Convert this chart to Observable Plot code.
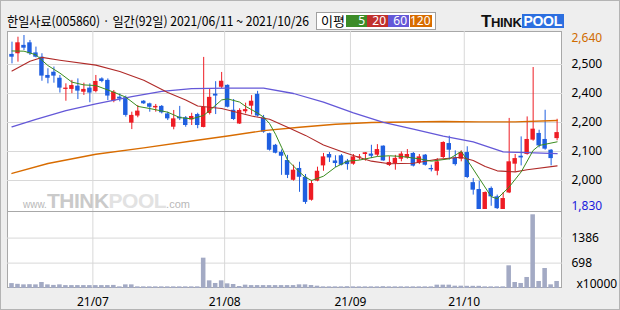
<!DOCTYPE html>
<html><head><meta charset="utf-8">
<script src="https://cdn.jsdelivr.net/npm/d3@7"></script>
<script src="https://cdn.jsdelivr.net/npm/@observablehq/plot@0.6"></script>
<style>
body{margin:0;background:#fff;}
#wrap{position:relative;width:620px;height:310px;background:#eeeeee;overflow:hidden;font-family:"Noto Sans CJK KR","Noto Sans",sans-serif;box-shadow:inset 0 0 0 1px #b4b4b4;}
#title{position:absolute;left:7px;top:12px;font-size:13px;line-height:17px;white-space:nowrap;color:#000;transform-origin:left center;display:inline-block;}
#legend{position:absolute;left:316px;top:12px;width:120px;height:18px;background:#fff;box-sizing:border-box;border:1px solid #a0a0a0;}
#legend .lbl{position:absolute;left:4px;top:-1px;font-size:13px;line-height:17px;}
#legend .b{position:absolute;top:2px;height:12px;color:#fff;font-size:12px;line-height:12px;text-align:right;box-sizing:border-box;padding-right:2px;font-family:"Noto Sans","Liberation Sans",sans-serif;}
#logo{position:absolute;left:481px;top:12px;height:17px;white-space:nowrap;font-family:"Liberation Sans","DejaVu Sans",sans-serif;font-weight:900;}
#logo .t1{font-size:17px;color:#111;letter-spacing:-0.5px;}
#logo .t2{font-size:13px;color:#111;letter-spacing:-0.3px;}
#logo .pool{display:inline-block;background:#2c6fe0;color:#fff;font-size:14px;line-height:14px;padding:0 2px 0 1px;margin-left:1px;letter-spacing:-0.3px;vertical-align:1px;}
#panel{position:absolute;left:7px;top:31px;width:555px;height:257px;background:#fff;box-sizing:border-box;border:1px solid #a8a8a8;}
#divider{position:absolute;left:7px;top:211px;width:555px;height:1px;background:#a8a8a8;}
#wm{position:absolute;left:23px;top:189px;white-space:nowrap;font-family:"Liberation Sans","DejaVu Sans",sans-serif;}
#wm .w{font-size:10px;color:#b8b8b8;}
#wm .th{font-size:21px;font-weight:900;color:#cacaca;letter-spacing:-0.5px;}
#wm .po{font-size:21px;font-weight:900;color:#e2e2e2;letter-spacing:-0.5px;}
#wm .c{font-size:11px;color:#b8b8b8;}
#price{position:absolute;left:0;top:31px;}
#vol{position:absolute;left:0;top:211px;}
</style></head><body>
<div id="wrap">
  <div id="title">한일사료(005860) · 일간(92일) 2021/06/11 ~ 2021/10/26</div>
  <div id="legend"><span class="lbl">이평</span></div>
  <div id="logo"><span class="t1">T</span><span class="t2">HINK</span><span class="pool">POOL</span></div>
  <div id="panel"></div>
  <div id="wm"><span class="w">www.</span><span class="th">THINK</span><span class="po">POOL</span><span class="c">.com</span></div>
  <div id="divider"></div>
  <div id="price"></div>
  <div id="vol"></div>
</div>
<script>
// ---- data ----
const open  = [2552,2555,2594,2606,2559,2539,2454,2469,2441,2389,2389,2404,2376,2395,2379,2438,2431,2334,2353,2350,
               2232,2265,2334,2322,2303,2310,2275,2213,2260,2257,2247,2272,2212,2277,2367,2399,2408,2292,2228,2285,
               2311,2366,2256,2183,2129,2096,2058,1966,2021,1980,1873,1962,2033,2086,2056,2080,2055,2041,2070,2086,
               2088,2083,2125,2035,2044,2064,2070,2091,2047,2083,2021,2008,2072,2137,2070,2064,2095,1955,1923,1830,
               1928,1889,1830,1907,2041,2078,2086,2153,2184,2156,2106,2160];
const high  = [2609,2632,2640,2617,2586,2555,2485,2493,2454,2415,2431,2438,2418,2415,2454,2443,2438,2384,2368,2358,
               2283,2314,2337,2325,2319,2314,2283,2291,2310,2263,2278,2278,2538,2389,2425,2468,2410,2342,2299,2325,
               2360,2380,2268,2185,2133,2107,2082,2036,2050,1993,1966,2027,2091,2095,2080,2086,2063,2086,2086,2095,
               2129,2132,2126,2076,2082,2098,2109,2095,2086,2086,2036,2067,2145,2171,2103,2103,2122,1974,1962,1912,
               1935,1897,1909,2254,2086,2168,2261,2491,2199,2292,2109,2250];
const low   = [2508,2516,2570,2547,2536,2427,2415,2418,2372,2334,2369,2342,2361,2327,2373,2420,2337,2327,2331,2260,
               2202,2257,2319,2283,2283,2275,2244,2201,2244,2213,2221,2206,2210,2270,2272,2393,2303,2244,2226,2275,
               2270,2260,2185,2102,2089,1989,1974,1962,1910,1854,1869,1959,2008,2049,2025,2033,2013,2036,2060,2055,
               2067,2075,2055,2030,2013,2052,2064,2028,2039,2032,2005,1987,2067,2060,2032,2052,1974,1897,1830,1830,
               1845,1830,1830,1904,2005,2033,2083,2148,2117,2106,2033,2150];
const close = [2539,2606,2581,2555,2539,2451,2441,2451,2395,2395,2407,2381,2389,2372,2426,2426,2358,2376,2344,2268,
               2268,2288,2322,2306,2310,2280,2252,2252,2252,2221,2263,2221,2305,2352,2358,2427,2306,2249,2291,2295,
               2334,2265,2190,2106,2092,2078,1989,2013,1980,1863,1951,2008,2075,2070,2044,2036,2039,2075,2075,2094,
               2078,2109,2056,2049,2068,2088,2086,2032,2075,2036,2015,2052,2142,2106,2039,2095,1979,1920,1830,1909,
               1889,1834,1881,2052,2067,2070,2156,2204,2126,2111,2067,2188];
// volume, unit x10000 shares
const volume = [135,115,100,105,100,165,100,85,100,80,80,80,80,80,80,80,80,85,45,100,
                100,45,45,45,45,45,45,45,45,45,45,45,834,211,138,211,128,110,55,92,
                80,80,80,80,80,80,80,80,100,100,82,64,45,45,45,45,50,45,45,45,
                45,45,50,45,45,45,45,45,45,45,45,92,92,92,64,64,60,60,60,45,
                45,45,45,624,165,138,303,2027,193,550,101,193];
// moving averages: [day index, value]
const ma5 = [[0,2568],[2,2567],[4,2550],[6,2500],[8,2465],[10,2423],[12,2410],[14,2407],[17,2376],[19,2353],
             [21,2310],[23,2300],[26,2283],[28,2258],[30,2252],[32,2268],[33,2291],[35,2340],[36,2345],[38,2330],
             [39,2310],[41,2279],[42,2260],[43,2230],[44,2180],[45,2120],[46,2060],[48,2004],[49,1980],[50,1965],
             [52,1985],[54,2027],[56,2055],[58,2060],[61,2077],[63,2080],[65,2077],[68,2066],[70,2055],[73,2066],
             [75,2100],[76,2060],[78,1975],[80,1890],[81,1880],[83,1935],[85,2005],[87,2105],[88,2128],[91,2145]];
const ma20 = [[0,2475],[3,2520],[5,2538],[8,2525],[14,2502],[18,2472],[22,2432],[26,2375],[29,2340],[31,2312],
              [35,2300],[40,2265],[43,2250],[46,2213],[49,2175],[52,2130],[55,2100],[58,2072],[60,2055],[63,2043],
              [67,2045],[71,2064],[75,2073],[77,2058],[79,2030],[81,2010],[84,2005],[86,2015],[91,2033]];
const ma60 = [[0,2215],[4,2250],[9,2290],[14,2322],[20,2355],[25,2380],[30,2393],[36,2395],[42,2395],[47,2370],
              [52,2330],[57,2280],[62,2236],[67,2204],[72,2172],[77,2145],[82,2098],[86,2095],[91,2090]];
const ma120 = [[0,1998],[6,2044],[14,2087],[22,2117],[30,2149],[36,2172],[42,2197],[48,2213],[54,2227],[60,2235],
               [66,2237],[72,2240],[78,2238],[84,2238],[91,2244]];
const priceGrid = [2505,2370,2235,2100,1965];
const priceGridLabels = ["2,500","2,400","2,200","2,100","2,000"];
const priceMax = 2640, priceMin = 1830;
const priceMaxLabel = "2,640", priceMinLabel = "1,830";
const volGrid = [1386,698];
const volMax = 2090;
const volUnit = "x10000";
const monthStart = [14,36,57,76];
const monthLabels = ["21/07","21/08","21/09","21/10"];
const maNames = ["5","20","60","120"];
const maColors = ["#3c8c28","#c0302c","#6458d8","#d86c00"];

// ---- legend ----
const legend = document.getElementById("legend");
const bx = [29,50,71,93], bw = [21,21,21,22];
maNames.forEach((n,k)=>{
  const s=document.createElement("span"); s.className="b"; s.textContent=n;
  s.style.left=bx[k]+"px"; s.style.width=bw[k]+"px"; s.style.background=maColors[k];
  legend.appendChild(s);
});

const UP="#ee1c24", DOWN="#1f5fe0", GRID="#d8d8d8";
const candles = open.map((o,i)=>({i,o,h:high[i],l:low[i],c:close[i]}));
const col = d => d.c >= d.o ? UP : DOWN;
const font = {fontFamily:"'Noto Sans','Noto Sans CJK KR',sans-serif", fontSize:"12px", background:"transparent", overflow:"visible"};
const xDom = [-0.75, 91.9];

// price panel: 2640 at 4px, 1830 at 178px within 180px height
const k = 174/(priceMax-priceMin);
const yDom = [priceMin - 2/k, priceMax + 4/k];
const pts = a => a.map(([i,v])=>({i,v}));

const price = Plot.plot({
  width:620, height:180, marginLeft:7, marginRight:58, marginTop:0, marginBottom:0,
  x:{domain:xDom, axis:null}, y:{domain:yDom, axis:null, label:null}, style:font,
  marks:[
    Plot.ruleY(priceGrid,{stroke:GRID}),
    Plot.ruleX(monthStart,{x:d=>d-0.5, stroke:GRID}),
    Plot.ruleX(candles,{x:"i", y1:"l", y2:"h", stroke:col, strokeWidth:1}),
    Plot.rect(candles,{x1:d=>d.i-0.37, x2:d=>d.i+0.37, y1:"o", y2:"c", fill:col}),
    Plot.line(pts(ma120),{x:"i", y:"v", stroke:maColors[3], strokeWidth:1.4}),
    Plot.line(pts(ma60),{x:"i", y:"v", stroke:maColors[2], strokeWidth:1.3}),
    Plot.line(pts(ma20),{x:"i", y:"v", stroke:"#b02a28", strokeWidth:1.1}),
    Plot.line(pts(ma5),{x:"i", y:"v", stroke:"#3a8c1e", strokeWidth:1}),
    Plot.axisY(priceGrid,{anchor:"right", tickSize:0, tickPadding:9, fill:"#000", label:null,
      tickFormat:d=>priceGridLabels[priceGrid.indexOf(d)]}),
    Plot.text([priceMax],{y:d=>d, frameAnchor:"right", dx:9, dy:3, textAnchor:"start", fill:"#d06c00", text:()=>priceMaxLabel}),
    Plot.text([priceMin],{y:d=>d, frameAnchor:"right", dx:9, dy:-3, textAnchor:"start", fill:"#1a1adc", text:()=>priceMinLabel})
  ]
});
document.getElementById("price").appendChild(price);

const vols = volume.map((v,i)=>({i,v}));
const vol = Plot.plot({
  width:620, height:99, marginLeft:7, marginRight:58, marginTop:1, marginBottom:22,
  x:{domain:xDom, axis:null, label:null}, y:{domain:[0,volMax], axis:null, label:null}, style:font,
  marks:[
    Plot.ruleY(volGrid,{stroke:GRID}),
    Plot.ruleX(monthStart,{x:d=>d-0.5, stroke:GRID}),
    Plot.rectY(vols,{x1:d=>d.i-0.38, x2:d=>d.i+0.38, y:"v", fill:"#a3aac4"}),
    Plot.axisY(volGrid,{anchor:"right", tickSize:0, tickPadding:9, fill:"#000", label:null, tickFormat:d=>String(d)}),
    Plot.axisX(monthStart.map(d=>d-0.5),{anchor:"bottom", tickSize:0, tickPadding:9, fill:"#000", label:null,
      tickFormat:d=>monthLabels[monthStart.indexOf(d+0.5)]}),
    Plot.text([volUnit],{frameAnchor:"bottom-right", dx:14, dy:-1, textAnchor:"start", fill:"#000", text:d=>d})
  ]
});
document.getElementById("vol").appendChild(vol);

const t = document.getElementById("title");
const w = t.getBoundingClientRect().width;
t.style.transform = `scaleX(${302/w})`;
</script>
</body></html>
